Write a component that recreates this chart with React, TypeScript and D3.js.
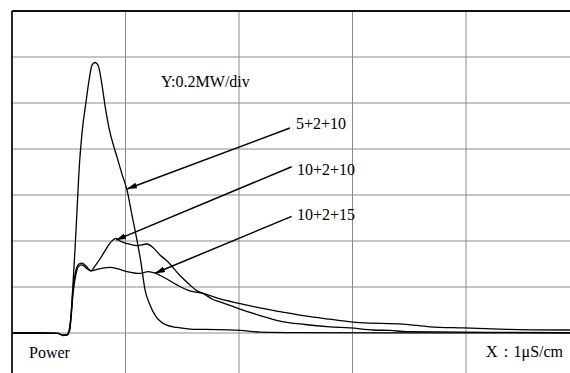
import React, { useRef, useEffect } from 'react';
import * as d3 from 'd3';

// time in μs, power in MW (0.2 MW per division)
const curve5_2_10: [number, number][] = [
  [0, 0], [0.247, 0], [0.405, -0.002], [0.449, -0.009], [0.485, -0.009], [0.502, 0.004],
  [0.511, 0.017], [0.529, 0.143], [0.555, 0.361], [0.573, 0.535], [0.59, 0.7], [0.617, 0.87],
  [0.652, 1.004], [0.678, 1.096], [0.705, 1.165], [0.731, 1.176], [0.758, 1.165], [0.793, 1.078],
  [0.819, 0.991], [0.855, 0.891], [0.89, 0.822], [0.925, 0.765], [0.969, 0.691], [1.013, 0.622],
  [1.057, 0.513], [1.101, 0.404], [1.137, 0.304], [1.172, 0.187], [1.216, 0.122], [1.26, 0.078],
  [1.304, 0.052], [1.357, 0.035], [1.454, 0.024], [1.595, 0.016], [1.806, 0.015], [2.009, 0.011],
  [2.185, 0.004], [2.537, 0.002], [4.916, 0]
];

const curve10_2_10: [number, number][] = [
  [0, 0], [0.247, 0], [0.405, -0.002], [0.449, -0.009], [0.485, -0.007], [0.502, 0.009],
  [0.52, 0.078], [0.537, 0.187], [0.564, 0.274], [0.59, 0.3], [0.617, 0.304], [0.652, 0.291],
  [0.696, 0.27], [0.731, 0.291], [0.775, 0.322], [0.819, 0.357], [0.863, 0.391], [0.89, 0.404],
  [0.916, 0.411], [0.952, 0.4], [1.013, 0.389], [1.101, 0.38], [1.189, 0.387], [1.242, 0.372],
  [1.304, 0.339], [1.366, 0.313], [1.48, 0.25], [1.568, 0.209], [1.63, 0.183], [1.683, 0.172],
  [1.762, 0.148], [1.833, 0.135], [2.009, 0.104], [2.185, 0.076], [2.361, 0.052], [2.581, 0.037],
  [2.802, 0.027], [2.978, 0.022], [3.181, 0.013], [3.33, 0.011], [3.48, 0.006], [4.185, 0.003],
  [4.916, 0.002]
];

const curve10_2_15: [number, number][] = [
  [0, 0], [0.247, 0], [0.405, -0.002], [0.449, -0.011], [0.485, -0.009], [0.502, 0.004],
  [0.52, 0.065], [0.537, 0.165], [0.564, 0.257], [0.59, 0.291], [0.617, 0.296], [0.652, 0.283],
  [0.696, 0.27], [0.758, 0.278], [0.811, 0.283], [0.863, 0.285], [0.925, 0.28], [1.013, 0.267],
  [1.128, 0.259], [1.198, 0.267], [1.269, 0.259], [1.348, 0.239], [1.454, 0.209], [1.568, 0.183],
  [1.683, 0.172], [1.833, 0.148], [2.009, 0.128], [2.185, 0.109], [2.361, 0.093], [2.581, 0.074],
  [2.802, 0.06], [3.066, 0.045], [3.445, 0.039], [3.683, 0.027], [3.974, 0.022], [4.361, 0.016],
  [4.916, 0.013]
];

const series = [curve5_2_10, curve10_2_10, curve10_2_15];

const xTicks = [0, 1, 2, 3, 4];
const yTicks = [0, 0.2, 0.4, 0.6, 0.8, 1.0, 1.2];

// label text, label anchor [t, P], arrow start [t, P], arrow tip [t, P]
const labels = ['5+2+10', '10+2+10', '10+2+15'];
const labelPos: [number, number][] = [[2.502, 0.887], [2.511, 0.687], [2.511, 0.491]];
const arrowFrom: [number, number][] = [[2.449, 0.891], [2.464, 0.723], [2.464, 0.507]];
const arrowTo: [number, number][] = [[1.013, 0.626], [0.916, 0.404], [1.26, 0.26]];

const W = 570;
const H = 373;
const FONT = 'Liberation Serif';

const App = () => {
  const svgRef = useRef<SVGSVGElement>(null);

  useEffect(() => {
    const svg = d3.select(svgRef.current);
    svg.selectAll('*').remove();

    const left = 12, top = 11, zeroY = 333, div = 113.5;
    const x = d3.scaleLinear().domain([0, (W - left) / div]).range([left, W]);
    const y = d3.scaleLinear().domain([0, 1.4]).range([zeroY, top]);

    svg.append('defs').append('marker')
      .attr('id', 'arrow')
      .attr('viewBox', '0 0 10 6')
      .attr('refX', 10).attr('refY', 3)
      .attr('markerWidth', 10).attr('markerHeight', 6)
      .attr('markerUnits', 'userSpaceOnUse')
      .attr('orient', 'auto')
      .append('path').attr('d', 'M0,0L10,3L0,6Z').attr('fill', '#000');

    // grid
    svg.append('g').selectAll('line').data(xTicks.slice(1)).join('line')
      .attr('x1', d => x(d)).attr('x2', d => x(d))
      .attr('y1', top).attr('y2', H)
      .attr('stroke', '#8c8c8c').attr('stroke-width', 1);
    svg.append('g').selectAll('line').data(yTicks).join('line')
      .attr('x1', left).attr('x2', W)
      .attr('y1', d => y(d)).attr('y2', d => y(d))
      .attr('stroke', '#8c8c8c').attr('stroke-width', 1);

    // frame (top and left)
    svg.append('line').attr('x1', left).attr('x2', W).attr('y1', top).attr('y2', top)
      .attr('stroke', '#111').attr('stroke-width', 1.8);
    svg.append('line').attr('x1', left).attr('x2', left).attr('y1', top).attr('y2', H)
      .attr('stroke', '#111').attr('stroke-width', 1.8);

    const line = d3.line<[number, number]>()
      .x(d => x(d[0])).y(d => y(d[1]))
      .curve(d3.curveMonotoneX);

    svg.append('g').selectAll('path').data(series).join('path')
      .attr('d', d => line(d))
      .attr('fill', 'none').attr('stroke', '#000').attr('stroke-width', 1.3);

    // arrows
    svg.append('g').selectAll('line').data(arrowFrom).join('line')
      .attr('x1', d => x(d[0])).attr('y1', d => y(d[1]))
      .attr('x2', (d, i) => x(arrowTo[i][0])).attr('y2', (d, i) => y(arrowTo[i][1]))
      .attr('stroke', '#000').attr('stroke-width', 1.5)
      .attr('marker-end', 'url(#arrow)');

    const text = svg.append('g').attr('font-family', FONT).attr('font-size', 16).attr('fill', '#000');
    text.selectAll('text.lab').data(labels).join('text')
      .attr('class', 'lab')
      .attr('x', (d, i) => x(labelPos[i][0])).attr('y', (d, i) => y(labelPos[i][1]))
      .text(d => d);

    text.append('text').attr('x', x(1.313)).attr('y', y(1.07)).text('Y:0.2MW/div');
    text.append('text').attr('x', 29).attr('y', 358).text('Power');
    text.append('text').attr('x', 486).attr('y', 357).text('X：1μS/cm');
  }, []);

  return (
    <svg ref={svgRef} width={W} height={H}
      style={{ position: 'absolute', left: 0, top: 0, background: '#fff' }} />
  );
};

export default App;
